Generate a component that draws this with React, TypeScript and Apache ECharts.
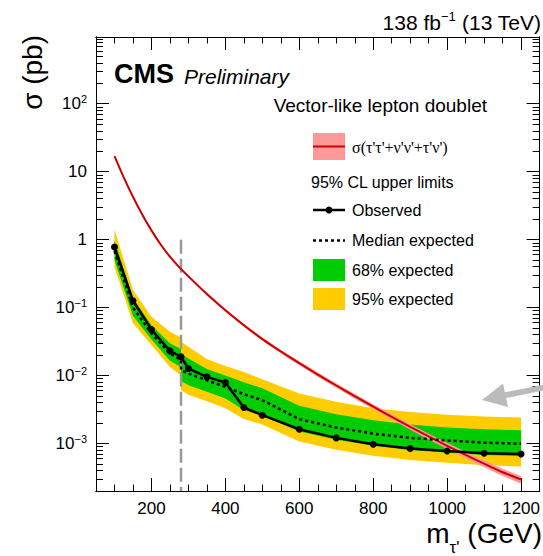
import React, { useEffect, useRef } from 'react';
import * as echarts from 'echarts';

// ---------------- data ----------------
const obsMass = [100, 150, 200, 250, 280, 300, 350, 400, 450, 500, 600, 700, 800, 900, 1000, 1100, 1200];
const observed = [0.78, 0.126, 0.0477, 0.0231, 0.0189, 0.0127, 0.00957, 0.0079, 0.00339, 0.00261, 0.00162, 0.00121, 0.000975, 0.000844, 0.000776, 0.00072, 0.000701];

// low-mass analysis segment
const lowMass = [100, 150, 200, 250, 280];
const lowMedian = [0.68, 0.1, 0.0417, 0.0212, 0.017];
const lowG68Lo = [0.5, 0.075, 0.034, 0.0165, 0.0132];
const lowG68Hi = [0.98, 0.14, 0.055, 0.03, 0.0245];
const lowY95Lo = [0.4, 0.0586, 0.0281, 0.0134, 0.0101];
const lowY95Hi = [1.42, 0.181, 0.0733, 0.0441, 0.0364];

// high-mass analysis segment
const highMass = [280, 300, 350, 400, 450, 500, 600, 700, 800, 900, 1000, 1100, 1200];
const highMedian = [0.012, 0.0107, 0.00855, 0.00683, 0.00532, 0.00435, 0.00228, 0.00172, 0.0014, 0.00121, 0.00111, 0.00103, 0.00099];
const highG68Lo = [0.0083, 0.0072, 0.0058, 0.0046, 0.0031, 0.0026, 0.0015, 0.00114, 0.00093, 0.0008, 0.00073, 0.00068, 0.00065];
const highG68Hi = [0.021, 0.0178, 0.0125, 0.01, 0.008, 0.0065, 0.00358, 0.0027, 0.0022, 0.0019, 0.00172, 0.00162, 0.00157];
const highY95Lo = [0.0061, 0.0052, 0.0042, 0.0033, 0.0023, 0.0019, 0.00107, 0.00081, 0.00066, 0.00057, 0.00052, 0.00048, 0.00046];
const highY95Hi = [0.0314, 0.0265, 0.0175, 0.0138, 0.0113, 0.0088, 0.00545, 0.0041, 0.0033, 0.0029, 0.00265, 0.0025, 0.00242];

// theory cross section
const thMass = [100, 125, 150, 175, 200, 225, 250, 275, 300, 350, 400, 450, 500, 550, 600, 650, 700, 750, 800, 850, 900, 950, 1000, 1050, 1100, 1150, 1200];
const thXsec = [17.0, 8.26, 4.27, 2.34, 1.37, 0.849, 0.561, 0.394, 0.288, 0.158, 0.0912, 0.055, 0.0344, 0.0226, 0.0152, 0.01035, 0.00714, 0.00497, 0.00348, 0.00247, 0.00176, 0.00127, 0.000925, 0.000679, 0.000505, 0.000378, 0.000295];
const thRelUnc = [0.03, 0.03, 0.03, 0.03, 0.035, 0.035, 0.035, 0.04, 0.04, 0.045, 0.05, 0.05, 0.055, 0.06, 0.065, 0.07, 0.075, 0.08, 0.085, 0.09, 0.095, 0.1, 0.105, 0.11, 0.115, 0.12, 0.13];

// boundary between the two analyses
const boundaryMass = 280;
const boundaryTop = 1;

// axes
const X_MIN = 50;
const X_MAX = 1250;
const Y_MIN = 2e-4;
const Y_MAX = 960;
const xMajorTicks = [200, 400, 600, 800, 1000, 1200];
const xMinorTicks = [50, 100, 150, 200, 250, 300, 350, 400, 450, 500, 550, 600, 650, 700, 750, 800, 850, 900, 950, 1000, 1050, 1100, 1150, 1200, 1250];
const yMajorTicks = [1e-3, 1e-2, 1e-1, 1, 10, 100];
const yMinorTicks: number[] = [];
for (let d = -4; d <= 2; d++) {
  for (let k = 2; k <= 9; k++) {
    const v = k * Math.pow(10, d);
    if (v >= Y_MIN && v <= Y_MAX) yMinorTicks.push(v);
  }
}

const SANS = "'Liberation Sans', Arial, Helvetica, sans-serif";
const SERIF = "'Liberation Serif', 'Times New Roman', serif";

const pairs = (xs: number[], ys: number[]) => xs.map((x, i) => [x, ys[i]]);

const bandPoly = (api: any, xs: number[], lo: number[], hi: number[]) => {
  const pts: number[][] = [];
  for (let i = 0; i < xs.length; i++) pts.push(api.coord([xs[i], hi[i]]));
  for (let i = xs.length - 1; i >= 0; i--) pts.push(api.coord([xs[i], lo[i]]));
  return pts;
};

const segments = [
  { m: lowMass, gLo: lowG68Lo, gHi: lowG68Hi, yLo: lowY95Lo, yHi: lowY95Hi },
  { m: highMass, gLo: highG68Lo, gHi: highG68Hi, yLo: highY95Lo, yHi: highY95Hi },
];

const renderBands = (params: any, api: any) => {
  const s = segments[params.dataIndex];
  return {
    type: 'group',
    children: [
      { type: 'polygon', shape: { points: bandPoly(api, s.m, s.yLo, s.yHi) }, style: { fill: '#ffcc00' } },
      { type: 'polygon', shape: { points: bandPoly(api, s.m, s.gLo, s.gHi) }, style: { fill: '#00cc00' } },
    ],
  };
};

const renderTheoryBand = (params: any, api: any) => {
  const lo = thXsec.map((v, i) => v * (1 - thRelUnc[i]));
  const hi = thXsec.map((v, i) => v * (1 + thRelUnc[i]));
  return { type: 'polygon', shape: { points: bandPoly(api, thMass, lo, hi) }, style: { fill: '#ff9999' } };
};

const xAxisDef = (position: string, ticks: number[], len: number, withLabel: boolean) => ({
  type: 'value',
  gridIndex: 0,
  position,
  min: X_MIN,
  max: X_MAX,
  axisLine: { show: true, onZero: false, lineStyle: { color: '#000', width: 1 } },
  axisTick: { show: true, inside: true, length: len, customValues: ticks, lineStyle: { color: '#000', width: 1 } },
  axisLabel: withLabel
    ? {
        show: true,
        customValues: ticks,
        fontSize: 17,
        fontFamily: SANS,
        color: '#000',
        margin: 9,
        formatter: (v: number) => String(Math.round(v)),
      }
    : { show: false },
  splitLine: { show: false },
});

const yAxisDef = (position: string, ticks: number[], len: number, withLabel: boolean) => ({
  type: 'log',
  logBase: 10,
  gridIndex: 0,
  position,
  min: Y_MIN,
  max: Y_MAX,
  axisLine: { show: true, onZero: false, lineStyle: { color: '#000', width: 1 } },
  axisTick: { show: true, inside: true, length: len, customValues: ticks, lineStyle: { color: '#000', width: 1 } },
  axisLabel: withLabel
    ? {
        show: true,
        customValues: ticks,
        fontSize: 17,
        fontFamily: SANS,
        color: '#000',
        margin: 9,
        formatter: (v: number) => {
          const e = Math.round(Math.log10(v));
          if (e === 0) return '1';
          if (e === 1) return '10';
          return '10{sup|' + (e < 0 ? '\u2212' + -e : String(e)) + '}';
        },
        rich: {
          sup: { fontSize: 11, fontFamily: SANS, color: '#000', verticalAlign: 'top', padding: [0, 0, 10, 0] },
        },
      }
    : { show: false },
  splitLine: { show: false },
});

const LX = 313; // legend symbol left
const LW = 32; // legend symbol width
const LT = 352; // legend text x

const legendText = (text: string, y: number) => ({
  type: 'text',
  x: LT,
  y,
  style: { text, fontSize: 16, fontFamily: SANS, fill: '#000', align: 'left', verticalAlign: 'middle' },
});

const option: any = {
  animation: false,
  backgroundColor: '#fff',
  grid: { left: 96, right: 2, top: 37, bottom: 65, containLabel: false },
  xAxis: [
    xAxisDef('bottom', xMajorTicks, 13, true),
    xAxisDef('bottom', xMinorTicks, 6.5, false),
    xAxisDef('top', xMajorTicks, 13, false),
    xAxisDef('top', xMinorTicks, 6.5, false),
  ],
  yAxis: [
    yAxisDef('left', yMajorTicks, 13, true),
    yAxisDef('left', yMinorTicks, 7, false),
    yAxisDef('right', yMajorTicks, 13, false),
    yAxisDef('right', yMinorTicks, 7, false),
  ],
  series: [
    {
      type: 'custom',
      name: 'Expected bands',
      xAxisIndex: 0,
      yAxisIndex: 0,
      renderItem: renderBands,
      data: [
        [lowMass[0], lowMedian[0]],
        [highMass[0], highMedian[0]],
      ],
      silent: true,
      clip: true,
      z: 1,
    },
    {
      type: 'line',
      name: 'Boundary',
      xAxisIndex: 0,
      yAxisIndex: 0,
      data: [
        [boundaryMass, boundaryTop],
        [boundaryMass, Y_MIN],
      ],
      symbol: 'none',
      lineStyle: { color: '#999999', width: 2.5, type: [14, 5] },
      silent: true,
      z: 2,
    },
    {
      type: 'custom',
      name: 'Theory band',
      xAxisIndex: 0,
      yAxisIndex: 0,
      renderItem: renderTheoryBand,
      data: [[thMass[0], thXsec[0]]],
      silent: true,
      clip: true,
      z: 3,
    },
    {
      type: 'line',
      name: 'Theory',
      xAxisIndex: 0,
      yAxisIndex: 0,
      data: pairs(thMass, thXsec),
      smooth: 0.2,
      symbol: 'none',
      lineStyle: { color: '#cc0000', width: 2 },
      silent: true,
      z: 4,
    },
    {
      type: 'line',
      name: 'Median expected',
      xAxisIndex: 0,
      yAxisIndex: 0,
      data: pairs(lowMass, lowMedian).concat(pairs(highMass, highMedian)),
      symbol: 'none',
      lineStyle: { color: '#000', width: 2.5, type: [3, 3] },
      silent: true,
      z: 5,
    },
    {
      type: 'line',
      name: 'Observed',
      xAxisIndex: 0,
      yAxisIndex: 0,
      data: pairs(obsMass, observed),
      symbol: 'circle',
      symbolSize: 7,
      itemStyle: { color: '#000' },
      lineStyle: { color: '#000', width: 2.5 },
      silent: true,
      z: 6,
    },
  ],
  graphic: [
    {
      type: 'text',
      x: 541,
      y: 10,
      style: {
        text: '{m|138 fb}{sup|\u22121}{m| (13 TeV)}',
        align: 'right',
        verticalAlign: 'top',
        fill: '#000',
        rich: {
          m: { fontSize: 21, fontFamily: SANS, fill: '#000', lineHeight: 21, verticalAlign: 'bottom' },
          sup: { fontSize: 13, fontFamily: SANS, fill: '#000', verticalAlign: 'top', padding: [0, 0, 10, 0] },
        },
      },
    },
    {
      type: 'text',
      x: 114,
      y: 74,
      style: { text: 'CMS', fontSize: 27, fontWeight: 'bold', fontFamily: SANS, fill: '#000', align: 'left', verticalAlign: 'middle' },
    },
    {
      type: 'text',
      x: 184,
      y: 76,
      style: { text: 'Preliminary', fontSize: 21, fontStyle: 'italic', fontFamily: SANS, fill: '#000', align: 'left', verticalAlign: 'middle' },
    },
    {
      type: 'text',
      x: 487,
      y: 105,
      style: { text: 'Vector-like lepton doublet', fontSize: 19, fontFamily: SANS, fill: '#000', align: 'right', verticalAlign: 'middle' },
    },
    // legend: theory
    { type: 'rect', shape: { x: LX, y: 133, width: LW, height: 27 }, style: { fill: '#ff9999' } },
    { type: 'line', shape: { x1: LX, y1: 146.5, x2: LX + LW, y2: 146.5 }, style: { stroke: '#cc0000', lineWidth: 2 } },
    {
      type: 'text',
      x: LT,
      y: 147,
      style: { text: "\u03c3(\u03c4'\u03c4'+\u03bd'\u03bd'+\u03c4'\u03bd')", fontSize: 16, fontFamily: SERIF, fill: '#000', align: 'left', verticalAlign: 'middle' },
    },
    {
      type: 'text',
      x: 311,
      y: 182,
      style: { text: '95% CL upper limits', fontSize: 16, fontFamily: SANS, fill: '#000', align: 'left', verticalAlign: 'middle' },
    },
    // observed
    { type: 'line', shape: { x1: LX, y1: 210, x2: LX + LW, y2: 210 }, style: { stroke: '#000', lineWidth: 2.5 } },
    { type: 'circle', shape: { cx: LX + LW / 2, cy: 210, r: 3.5 }, style: { fill: '#000' } },
    legendText('Observed', 210),
    // median
    { type: 'line', shape: { x1: LX, y1: 240.5, x2: LX + LW, y2: 240.5 }, style: { stroke: '#000', lineWidth: 2.5, lineDash: [3, 3] } },
    legendText('Median expected', 240.5),
    // 68%
    { type: 'rect', shape: { x: LX, y: 259, width: LW, height: 22 }, style: { fill: '#00cc00' } },
    legendText('68% expected', 270),
    // 95%
    { type: 'rect', shape: { x: LX, y: 288, width: LW, height: 22 }, style: { fill: '#ffcc00' } },
    legendText('95% expected', 299),
    // axis titles
    {
      type: 'text',
      x: 32,
      y: 35,
      rotation: Math.PI / 2,
      style: { text: '\u03c3 (pb)', fontSize: 28, fontFamily: SANS, fill: '#000', align: 'right', verticalAlign: 'middle' },
    },
    {
      type: 'text',
      x: 542,
      y: 519,
      style: {
        text: "{m|m}{sub|\u03c4'}{m| (GeV)}",
        align: 'right',
        verticalAlign: 'top',
        fill: '#000',
        rich: {
          m: { fontSize: 28, fontFamily: SANS, fill: '#000', verticalAlign: 'top', lineHeight: 24 },
          sub: { fontSize: 17, fontFamily: SANS, fill: '#000', verticalAlign: 'top', padding: [20, 0, 0, 0] },
        },
      },
    },
    // grey arrow
    {
      type: 'polygon',
      z: 100,
      shape: {
        points: [
          [482, 400],
          [503, 383.4],
          [504.9, 392.3],
          [543, 384.7],
          [543, 390.5],
          [506.1, 398.1],
          [508, 407],
        ],
      },
      style: { fill: '#bbbbbb' },
    },
  ],
};

export default function App() {
  const ref = useRef<HTMLDivElement>(null);
  useEffect(() => {
    if (!ref.current) return;
    const chart = echarts.init(ref.current, null, { renderer: 'svg' });
    chart.setOption(option);
    return () => chart.dispose();
  }, []);
  return (
    <div
      ref={ref}
      style={{ position: 'absolute', left: 0, top: 0, width: 543, height: 556, background: '#fff' }}
    />
  );
}
